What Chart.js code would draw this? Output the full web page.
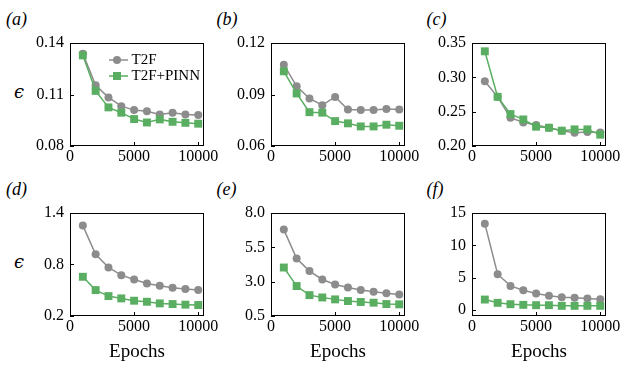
<!DOCTYPE html>
<html><head><meta charset="utf-8">
<script src="https://cdn.jsdelivr.net/npm/chart.js@4.4.1/dist/chart.umd.min.js"></script>
<style>
html,body{margin:0;padding:0;background:#fff;}
body{width:634px;height:366px;position:relative;overflow:hidden;font-family:"Liberation Serif","Times New Roman",serif;color:#000;}
canvas{position:absolute;}
.lbl{position:absolute;line-height:0;white-space:nowrap;font-style:italic;font-size:18px;}
.eps{position:absolute;line-height:0;white-space:nowrap;font-size:18px;font-style:italic;font-family:"DejaVu Serif","Liberation Serif",serif;}
</style></head><body>
<div class="lbl" style="left:6px;top:18.5px">(a)</div>
<div class="lbl" style="left:216.5px;top:18.5px">(b)</div>
<div class="lbl" style="left:426.5px;top:18.5px">(c)</div>
<div class="lbl" style="left:6px;top:188.5px">(d)</div>
<div class="lbl" style="left:216.5px;top:188.5px">(e)</div>
<div class="lbl" style="left:426.5px;top:188.5px">(f)</div>
<div class="eps" style="left:14px;top:92px">ϵ</div>
<div class="eps" style="left:14px;top:262px">ϵ</div>
<canvas id="ca"></canvas><canvas id="cb"></canvas><canvas id="cc"></canvas>
<canvas id="cd"></canvas><canvas id="ce"></canvas><canvas id="cf"></canvas>
<script>
// ---- data ----
const epochs = [1000, 2000, 3000, 4000, 5000, 6000, 7000, 8000, 9000, 10000];
const xTicks = [0, 5000, 10000];
const xTickLabels = ['0', '5000', '10000'];
const seriesNames = ['T2F', 'T2F+PINN'];

const t2fA  = [0.1338, 0.1154, 0.1083, 0.1032, 0.1009, 0.1003, 0.0984, 0.0994, 0.0984, 0.0980];
const pinnA = [0.1328, 0.1121, 0.1025, 0.0994, 0.0957, 0.0937, 0.0955, 0.0941, 0.0935, 0.0930];
const yTicksA = [0.08, 0.11, 0.14];
const yLabelsA = ['0.08', '0.11', '0.14'];

const t2fB  = [0.1074, 0.0948, 0.0877, 0.0838, 0.0886, 0.0813, 0.0809, 0.0809, 0.0815, 0.0813];
const pinnB = [0.1035, 0.0906, 0.0797, 0.0794, 0.0745, 0.0732, 0.0714, 0.0714, 0.0724, 0.0718];
const yTicksB = [0.06, 0.09, 0.12];
const yLabelsB = ['0.06', '0.09', '0.12'];

const t2fC  = [0.2944, 0.2716, 0.2411, 0.2344, 0.2305, 0.2266, 0.2223, 0.2194, 0.2203, 0.2198];
const pinnC = [0.3379, 0.2716, 0.2465, 0.2387, 0.2281, 0.2266, 0.2223, 0.2242, 0.2242, 0.2165];
const yTicksC = [0.20, 0.25, 0.30, 0.35];
const yLabelsC = ['0.20', '0.25', '0.30', '0.35'];

const t2fD  = [1.253, 0.920, 0.765, 0.676, 0.626, 0.579, 0.552, 0.529, 0.514, 0.502];
const pinnD = [0.657, 0.502, 0.432, 0.405, 0.378, 0.366, 0.347, 0.339, 0.332, 0.328];
const yTicksD = [0.2, 0.8, 1.4];
const yLabelsD = ['0.2', '0.8', '1.4'];

const t2fE  = [6.79, 4.69, 3.77, 3.16, 2.80, 2.58, 2.39, 2.27, 2.15, 2.07];
const pinnE = [4.03, 2.68, 2.02, 1.85, 1.71, 1.59, 1.52, 1.47, 1.37, 1.35];
const yTicksE = [0.5, 3.0, 5.5, 8.0];
const yLabelsE = ['0.5', '3.0', '5.5', '8.0'];

const t2fF  = [13.35, 5.55, 3.75, 3.08, 2.57, 2.21, 2.00, 1.90, 1.80, 1.69];
const pinnF = [1.64, 1.13, 0.92, 0.82, 0.77, 0.77, 0.67, 0.67, 0.67, 0.67];
const yTicksF = [0, 5, 10, 15];
const yLabelsF = ['0', '5', '10', '15'];

// ---- styling / layout ----
const GRAY = '#8c8c8c', GREEN = '#5aae61';
const FONT = "'Liberation Serif', 'Times New Roman', serif";
Chart.defaults.font.family = FONT;
Chart.defaults.color = '#000';

const PADL = 60, PADT = 10, PADR = 20, XH = 55, W = 134, H = 103;

function legendIcon(color, style) {
  const c = document.createElement('canvas');
  c.width = 22; c.height = 10;
  const g = c.getContext('2d');
  g.strokeStyle = color; g.lineWidth = 1.5;
  g.beginPath(); g.moveTo(0, 5); g.lineTo(22, 5); g.stroke();
  g.fillStyle = color;
  if (style === 'circle') { g.beginPath(); g.arc(11, 5, 4, 0, Math.PI * 2); g.fill(); }
  else { g.fillRect(7, 1, 8, 8); }
  return c;
}
const icons = [legendIcon(GRAY, 'circle'), legendIcon(GREEN, 'rect')];

const framePlugin = {
  id: 'frame',
  afterDatasetsDraw(chart) {
    const {ctx, chartArea: a, scales: {x, y}} = chart;
    ctx.save();
    ctx.strokeStyle = '#000'; ctx.lineWidth = 1;
    ctx.beginPath();
    x.ticks.forEach(t => { const p = Math.round(x.getPixelForValue(t.value)) + 0.5; ctx.moveTo(p, a.bottom); ctx.lineTo(p, a.bottom - 4); });
    y.ticks.forEach(t => { const p = Math.round(y.getPixelForValue(t.value)) + 0.5; ctx.moveTo(a.left, p); ctx.lineTo(a.left + 4, p); });
    ctx.stroke();
    ctx.strokeRect(a.left + 0.5, a.top + 0.5, a.right - a.left - 1, a.bottom - a.top - 1);
    ctx.restore();
  }
};
const legendPlacer = {
  id: 'legendPlacer',
  afterLayout(chart) {
    const lg = chart.legend;
    if (!lg || !lg.options.display) return;
    const ca = chart.chartArea;
    lg.left = ca.left + 39; lg.top = ca.top + 8.5;
    lg.right = ca.right; lg.bottom = ca.bottom;
    lg.width = lg.right - lg.left; lg.height = lg.bottom - lg.top;
  }
};

function makePanel(id, left, top, t2f, pinn, yMin, yMax, yTicks, yLabels, xTitle, showLegend) {
  const cv = document.getElementById(id);
  cv.width = PADL + W + PADR; cv.height = PADT + H + XH;
  cv.style.left = (left - PADL) + 'px'; cv.style.top = (top - PADT) + 'px';
  new Chart(cv, {
    type: 'line',
    data: {
      datasets: [
        { label: seriesNames[0], data: epochs.map((e, i) => ({x: e, y: t2f[i]})),
          borderColor: GRAY, backgroundColor: GRAY, borderWidth: 1.5, pointStyle: 'circle',
          pointRadius: 4, pointBorderWidth: 0, tension: 0, order: 1 },
        { label: seriesNames[1], data: epochs.map((e, i) => ({x: e, y: pinn[i]})),
          borderColor: GREEN, backgroundColor: GREEN, borderWidth: 1.5, pointStyle: 'rect',
          pointRadius: 5.6, pointBorderWidth: 0, tension: 0, order: 0 }
      ]
    },
    options: {
      responsive: false, animation: false, events: [], devicePixelRatio: 1,
      layout: { padding: {left: 0, top: PADT, right: PADR, bottom: 0}, autoPadding: false },
      plugins: {
        tooltip: {enabled: false},
        legend: {
          display: showLegend, position: 'chartArea', align: 'start',
          labels: {
            font: {family: FONT, size: 15}, color: '#000', usePointStyle: true, pointStyleWidth: 14, padding: 1,
            generateLabels: (chart) => chart.data.datasets.map((ds, i) => ({
              text: ds.label, pointStyle: icons[i], fillStyle: ds.borderColor, strokeStyle: ds.borderColor,
              lineWidth: 0, hidden: false, datasetIndex: i, fontColor: '#000'
            }))
          }
        }
      },
      scales: {
        x: {
          type: 'linear', min: 0, max: 10450,
          grid: {display: false, drawTicks: false}, border: {display: false},
          ticks: {font: {size: 16}, padding: 1, maxRotation: 0, autoSkip: false,
                  callback: (v, i) => xTickLabels[i]},
          afterBuildTicks: (s) => { s.ticks = xTicks.map(v => ({value: v})); },
          afterFit: (s) => { s.height = XH; s.paddingLeft = 0; s.paddingRight = 0; },
          title: {display: xTitle, text: 'Epochs', font: {size: 19}, color: '#000', padding: {top: 0, bottom: 8}}
        },
        y: {
          type: 'linear', min: yMin, max: yMax,
          grid: {display: false, drawTicks: false}, border: {display: false},
          ticks: {font: {size: 16}, padding: 6, autoSkip: false, callback: (v, i) => yLabels[i]},
          afterBuildTicks: (s) => { s.ticks = yTicks.map(v => ({value: v})); },
          afterFit: (s) => { s.width = PADL; s.paddingTop = 0; s.paddingBottom = 0; }
        }
      }
    },
    plugins: [framePlugin, legendPlacer]
  });
}

makePanel('ca', 70, 43, t2fA, pinnA, 0.08, 0.14, yTicksA, yLabelsA, false, true);
makePanel('cb', 271, 43, t2fB, pinnB, 0.06, 0.12, yTicksB, yLabelsB, false, false);
makePanel('cc', 472, 43, t2fC, pinnC, 0.20, 0.35, yTicksC, yLabelsC, false, false);
makePanel('cd', 70, 213, t2fD, pinnD, 0.2, 1.4, yTicksD, yLabelsD, true, false);
makePanel('ce', 271, 213, t2fE, pinnE, 0.5, 8.0, yTicksE, yLabelsE, true, false);
makePanel('cf', 472, 213, t2fF, pinnF, -0.9, 15, yTicksF, yLabelsF, true, false);
</script>
</body></html>
